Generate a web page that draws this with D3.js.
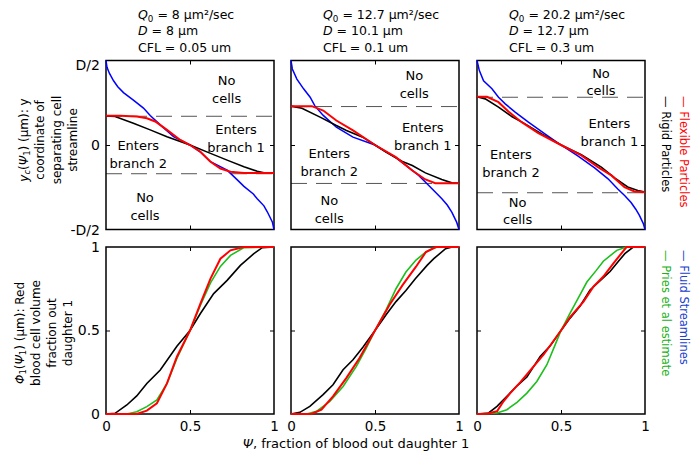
<!DOCTYPE html>
<html>
<head>
<meta charset="utf-8">
<title>Separating streamlines and RBC fractions</title>
<script src="https://cdn.jsdelivr.net/npm/d3@7"></script>
<style>
  body { margin: 0; background: #fff; }
  svg text { font-family: "DejaVu Sans", Verdana, sans-serif; }
</style>
</head>
<body>
<svg id="chart" width="693" height="451"></svg>
<script>
// ---- data ----
// panel parameters
const q0Vals = ["8", "12.7", "20.2"];
const dVals = ["8", "10.1", "12.7"];
const cflVals = ["0.05", "0.1", "0.3"];
// limit of cell centres, as fraction of D/2
const cellLimit = [0.34, 0.455, 0.565];

const yTickLabels = ["-D/2", "0", "D/2"];
const phiTicks = [0, 0.5, 1];
const psiTicks = [0, 0.5, 1];

// top row: y_c(psi) normalised by D/2
const fluid1 = [[0,1],[0.006,0.92],[0.02,0.85],[0.045,0.76],[0.07,0.69],[0.104,0.62],[0.163,0.53],[0.223,0.437],[0.263,0.35],[0.323,0.238],[0.402,0.1],[0.5,0],[0.56,-0.08],[0.622,-0.198],[0.721,-0.298],[0.78,-0.41],[0.821,-0.49],[0.877,-0.58],[0.9,-0.635],[0.94,-0.72],[0.96,-0.79],[0.99,-0.91],[1,-1]];
const rigid1 = [[0,0.345],[0.054,0.337],[0.163,0.258],[0.263,0.179],[0.363,0.099],[0.5,0],[0.622,-0.099],[0.721,-0.179],[0.821,-0.258],[0.9,-0.31],[0.94,-0.33],[1,-0.33]];
const flex1 = [[0,0.345],[0.084,0.345],[0.183,0.337],[0.243,0.317],[0.293,0.278],[0.363,0.179],[0.442,0.06],[0.5,0],[0.562,-0.079],[0.622,-0.198],[0.681,-0.278],[0.741,-0.317],[0.821,-0.33],[1,-0.33]];

const fluid2 = [[0,1],[0.008,0.9],[0.035,0.78],[0.075,0.665],[0.114,0.566],[0.143,0.46],[0.192,0.35],[0.27,0.21],[0.369,0.093],[0.5,0],[0.624,-0.15],[0.722,-0.3],[0.76,-0.36],[0.82,-0.48],[0.86,-0.56],[0.898,-0.637],[0.93,-0.71],[0.957,-0.795],[0.986,-0.913],[1,-1]];
const rigid2 = [[0,0.46],[0.065,0.436],[0.173,0.33],[0.27,0.23],[0.33,0.172],[0.427,0.093],[0.5,0],[0.565,-0.085],[0.663,-0.195],[0.722,-0.243],[0.8,-0.33],[0.898,-0.408],[0.957,-0.448],[1,-0.452]];
const flex2 = [[0,0.46],[0.124,0.46],[0.192,0.408],[0.27,0.29],[0.369,0.172],[0.5,0],[0.624,-0.144],[0.722,-0.302],[0.8,-0.408],[0.859,-0.452],[1,-0.452]];

const fluid3 = [[0,1],[0.014,0.88],[0.039,0.76],[0.089,0.665],[0.128,0.566],[0.168,0.487],[0.227,0.389],[0.306,0.27],[0.404,0.132],[0.5,0],[0.6,-0.13],[0.7,-0.27],[0.78,-0.4],[0.838,-0.52],[0.88,-0.6],[0.917,-0.68],[0.945,-0.76],[0.966,-0.83],[0.99,-0.93],[1,-1]];
const rigid3 = [[0,0.57],[0.049,0.546],[0.128,0.448],[0.207,0.337],[0.286,0.25],[0.385,0.132],[0.5,0],[0.621,-0.116],[0.74,-0.262],[0.819,-0.39],[0.897,-0.497],[0.957,-0.538],[1,-0.558]];
const flex3 = [[0,0.57],[0.059,0.57],[0.128,0.507],[0.187,0.396],[0.266,0.27],[0.365,0.14],[0.5,0],[0.621,-0.124],[0.72,-0.262],[0.8,-0.36],[0.878,-0.5],[0.937,-0.55],[1,-0.558]];

// bottom row: phi_1(psi_1)
const flexB1 = [[0,0],[0.183,0],[0.243,0.02],[0.303,0.064],[0.363,0.183],[0.422,0.343],[0.5,0.5],[0.562,0.661],[0.622,0.811],[0.681,0.93],[0.741,0.98],[0.821,1],[1,1]];
const priesB1 = [[0,0],[0.124,0],[0.183,0.014],[0.243,0.044],[0.303,0.084],[0.363,0.183],[0.422,0.333],[0.5,0.5],[0.562,0.651],[0.622,0.785],[0.681,0.884],[0.741,0.95],[0.821,0.996],[1,1]];
const rigidB1 = [[0,0],[0.054,0.004],[0.124,0.054],[0.183,0.108],[0.243,0.183],[0.323,0.263],[0.422,0.406],[0.5,0.5],[0.562,0.602],[0.641,0.721],[0.721,0.8],[0.8,0.89],[0.88,0.96],[0.93,0.996],[1,1]];

const flexB2 = [[0,0],[0.122,0],[0.181,0.026],[0.25,0.106],[0.329,0.215],[0.408,0.335],[0.5,0.5],[0.586,0.653],[0.665,0.773],[0.744,0.882],[0.803,0.97],[0.862,1],[1,1]];
const priesB2 = [[0,0],[0.093,0],[0.152,0.016],[0.231,0.076],[0.31,0.165],[0.389,0.285],[0.448,0.394],[0.5,0.5],[0.566,0.624],[0.625,0.75],[0.684,0.85],[0.744,0.922],[0.803,0.97],[0.842,0.99],[0.87,1],[1,1]];
const rigidB2 = [[0,0],[0.053,0.01],[0.112,0.046],[0.191,0.116],[0.25,0.175],[0.31,0.265],[0.369,0.325],[0.428,0.4],[0.5,0.5],[0.566,0.594],[0.625,0.673],[0.684,0.74],[0.74,0.81],[0.81,0.89],[0.85,0.93],[0.92,0.99],[0.96,1],[1,1]];

const flexB3 = [[0,0],[0.059,0.002],[0.119,0.016],[0.158,0.076],[0.198,0.125],[0.257,0.189],[0.317,0.261],[0.396,0.355],[0.5,0.5],[0.554,0.58],[0.634,0.673],[0.693,0.763],[0.752,0.823],[0.812,0.902],[0.85,0.95],[0.89,1],[1,1]];
const priesB3 = [[0,0],[0.119,0.006],[0.178,0.026],[0.238,0.07],[0.297,0.125],[0.356,0.195],[0.416,0.295],[0.465,0.414],[0.5,0.5],[0.554,0.604],[0.6,0.69],[0.654,0.79],[0.71,0.86],[0.752,0.915],[0.832,0.98],[0.89,1],[1,1]];
const rigidB3 = [[0,0],[0.069,0.006],[0.119,0.046],[0.178,0.106],[0.238,0.169],[0.297,0.221],[0.376,0.345],[0.436,0.408],[0.5,0.5],[0.554,0.574],[0.614,0.647],[0.673,0.743],[0.733,0.799],[0.792,0.853],[0.842,0.915],[0.88,0.96],[0.93,1],[1,1]];

const fluidTop = [fluid1, fluid2, fluid3];
const rigidTop = [rigid1, rigid2, rigid3];
const flexTop = [flex1, flex2, flex3];
const rigidBot = [rigidB1, rigidB2, rigidB3];
const priesBot = [priesB1, priesB2, priesB3];
const flexBot = [flexB1, flexB2, flexB3];

// ---- layout ----
const panelLeft = [106, 291, 477];
const panelW = 168;
const topY = [60.5, 229.5];
const botY = [247, 414];

// region label anchors (psi, normalised y) for each panel
const regionPos = [
  { noTop: [0.718, 0.66], br1: [0.774, 0.08], br2: [0.192, -0.11], noBot: [0.232, -0.72] },
  { noTop: [0.734, 0.725], br1: [0.784, 0.11], br2: [0.228, -0.2], noBot: [0.228, -0.76] },
  { noTop: [0.738, 0.75], br1: [0.788, 0.155], br2: [0.202, -0.215], noBot: [0.242, -0.775] }
];

const colors = { fluid: "#0000ff", rigid: "#000000", flex: "#ff0000", pries: "#1cbf1c" };

const svg = d3.select("#chart");

function addRich(sel, segs) {
  segs.forEach(s => {
    const t = sel.append("tspan").text(s.t);
    if (s.it) t.attr("font-style", "italic");
    if (s.sub) t.attr("font-size", "70%").attr("dy", "0.3em");
    if (s.back) t.attr("dy", "-0.21em");
  });
}

panelLeft.forEach((left, i) => {
  const x = d3.scaleLinear().domain([0, 1]).range([left, left + panelW]);
  const yT = d3.scaleLinear().domain([-1, 1]).range([topY[1], topY[0]]);
  const yB = d3.scaleLinear().domain([0, 1]).range([botY[1], botY[0]]);

  // title
  const tl = left + 32;
  const t1 = svg.append("text").attr("x", tl).attr("y", 19).attr("font-size", 12.5);
  addRich(t1, [{ t: "Q", it: true }, { t: "0", sub: true }, { t: " = " + q0Vals[i] + " μm²/sec", back: true }]);
  const t2 = svg.append("text").attr("x", tl).attr("y", 35).attr("font-size", 12.5);
  addRich(t2, [{ t: "D", it: true }, { t: " = " + dVals[i] + " μm" }]);
  svg.append("text").attr("x", tl).attr("y", 51.5).attr("font-size", 12.5)
    .text("CFL = " + cflVals[i] + " um");

  // ---- top panel ----
  const gT = svg.append("g");
  // cell limit dashed lines
  [cellLimit[i], -cellLimit[i]].forEach(v => {
    gT.append("line")
      .attr("x1", x(0)).attr("x2", x(1))
      .attr("y1", yT(v)).attr("y2", yT(v))
      .attr("stroke", "#555").attr("stroke-width", 1)
      .attr("stroke-dasharray", "16,9");
  });
  gT.append("rect")
    .attr("x", x(0)).attr("y", yT(1))
    .attr("width", x(1) - x(0)).attr("height", yT(-1) - yT(1))
    .attr("fill", "none").attr("stroke", "#000").attr("stroke-width", 1.5);

  gT.append("g").attr("transform", `translate(0,${yT(1)})`)
    .call(d3.axisTop(x).tickValues([0.5]).tickSize(-4).tickFormat(""));
  gT.append("g").attr("transform", `translate(0,${yT(-1)})`)
    .call(d3.axisBottom(x).tickValues([0.5]).tickSize(-4).tickFormat(""));
  gT.append("g").attr("transform", `translate(${x(0)},0)`)
    .call(d3.axisLeft(yT).tickValues([0]).tickSize(-4).tickFormat(""));
  gT.append("g").attr("transform", `translate(${x(1)},0)`)
    .call(d3.axisRight(yT).tickValues([0]).tickSize(-4).tickFormat(""));

  if (i === 0) {
    const ax = gT.append("g").attr("transform", `translate(${x(0)},0)`)
      .call(d3.axisLeft(yT).tickValues([-1, 0, 1]).tickSize(0).tickPadding(6)
        .tickFormat((d, k) => yTickLabels[k]));
    ax.selectAll("text").attr("font-size", 14).attr("font-family", null)
      .attr("dy", d => d === 1 ? "0.62em" : "0.34em");
  }

  const lineT = d3.line().x(d => x(d[0])).y(d => yT(d[1]));
  gT.append("path").datum(fluidTop[i]).attr("d", lineT)
    .attr("fill", "none").attr("stroke", colors.fluid).attr("stroke-width", 1.5);
  gT.append("path").datum(rigidTop[i]).attr("d", lineT)
    .attr("fill", "none").attr("stroke", colors.rigid).attr("stroke-width", 1.6);
  gT.append("path").datum(flexTop[i]).attr("d", lineT)
    .attr("fill", "none").attr("stroke", colors.flex).attr("stroke-width", 2);

  // region labels
  const rp = regionPos[i];
  const twoLine = (pos, a, b) => {
    const cx = x(pos[0]), cy = yT(pos[1]);
    const t = gT.append("text").attr("text-anchor", "middle").attr("font-size", 13)
      .attr("dominant-baseline", "central");
    t.append("tspan").attr("x", cx).attr("y", cy - 8.8).text(a);
    t.append("tspan").attr("x", cx).attr("y", cy + 8.8).text(b);
  };
  twoLine(rp.noTop, "No", "cells");
  twoLine(rp.br1, "Enters", "branch 1");
  twoLine(rp.br2, "Enters", "branch 2");
  twoLine(rp.noBot, "No", "cells");

  // ---- bottom panel ----
  const gB = svg.append("g");
  gB.append("rect")
    .attr("x", x(0)).attr("y", yB(1))
    .attr("width", x(1) - x(0)).attr("height", yB(0) - yB(1))
    .attr("fill", "none").attr("stroke", "#000").attr("stroke-width", 1.5);
  gB.append("g").attr("transform", `translate(0,${yB(1)})`)
    .call(d3.axisTop(x).tickValues([0.5]).tickSize(-4).tickFormat(""));
  gB.append("g").attr("transform", `translate(0,${yB(0)})`)
    .call(d3.axisBottom(x).tickValues([0.5]).tickSize(-4).tickFormat(""));
  gB.append("g").attr("transform", `translate(${x(0)},0)`)
    .call(d3.axisLeft(yB).tickValues([0.5]).tickSize(-4).tickFormat(""));
  gB.append("g").attr("transform", `translate(${x(1)},0)`)
    .call(d3.axisRight(yB).tickValues([0.5]).tickSize(-4).tickFormat(""));

  const xl = gB.append("g").attr("transform", `translate(0,${yB(0)})`)
    .call(d3.axisBottom(x).tickValues(psiTicks).tickSize(0).tickPadding(7)
      .tickFormat(d3.format("~g")));
  xl.selectAll("text").attr("font-size", 13.5).attr("font-family", null);

  if (i === 0) {
    const yl = gB.append("g").attr("transform", `translate(${x(0)},0)`)
      .call(d3.axisLeft(yB).tickValues(phiTicks).tickSize(0).tickPadding(6)
        .tickFormat(d3.format("~g")));
    yl.selectAll("text").attr("font-size", 14).attr("font-family", null);
  }

  const lineB = d3.line().x(d => x(d[0])).y(d => yB(d[1]));
  gB.append("path").datum(rigidBot[i]).attr("d", lineB)
    .attr("fill", "none").attr("stroke", colors.rigid).attr("stroke-width", 1.6);
  gB.append("path").datum(priesBot[i]).attr("d", lineB)
    .attr("fill", "none").attr("stroke", colors.pries).attr("stroke-width", 1.6);
  gB.append("path").datum(flexBot[i]).attr("d", lineB)
    .attr("fill", "none").attr("stroke", colors.flex).attr("stroke-width", 2);
});

svg.selectAll(".domain").remove();
svg.selectAll(".tick line").attr("stroke", "#000").attr("stroke-width", 1);

// y axis titles (rotated)
function vLines(lines, xs, cy) {
  lines.forEach((segs, k) => {
    const t = svg.append("text")
      .attr("transform", `translate(${xs[k]},${cy}) rotate(-90)`)
      .attr("text-anchor", "middle").attr("dominant-baseline", "central")
      .attr("font-size", 12);
    addRich(t, segs);
  });
}
vLines([
  [{ t: "y", it: true }, { t: "c", sub: true, it: true }, { t: "(", back: true }, { t: "Ψ", it: true }, { t: "1", sub: true }, { t: ") (μm): y", back: true }],
  [{ t: "coordinate of" }],
  [{ t: "separating cell" }],
  [{ t: "streamline" }]
], [24, 40, 56.5, 72.5], 140);
vLines([
  [{ t: "Φ", it: true }, { t: "1", sub: true }, { t: "(", back: true }, { t: "Ψ", it: true }, { t: "1", sub: true }, { t: ") (μm): Red", back: true }],
  [{ t: "blood cell volume" }],
  [{ t: "fraction out" }],
  [{ t: "daughter 1" }]
], [20, 36, 52, 68], 333);

// x axis title
const xt = svg.append("text").attr("x", 356).attr("y", 447.5)
  .attr("text-anchor", "middle").attr("font-size", 13);
addRich(xt, [{ t: "Ψ", it: true }, { t: ", fraction of blood out daughter 1" }]);

// legend (rotated, reading downward)
const legend = [
  { label: "— Flexible Particles", color: colors.flex, x: 684, y: 96 },
  { label: "— Rigid Particles", color: colors.rigid, x: 666, y: 96 },
  { label: "— Fluid Streamlines", color: "#2040d0", x: 684, y: 250 },
  { label: "— Pries et al estimate", color: "#20b020", x: 666, y: 250 }
];
legend.forEach(l => {
  svg.append("text")
    .attr("transform", `translate(${l.x},${l.y}) rotate(90)`)
    .attr("dominant-baseline", "central")
    .attr("font-size", 11.5).attr("fill", l.color)
    .text(l.label);
});
</script>
</body>
</html>
